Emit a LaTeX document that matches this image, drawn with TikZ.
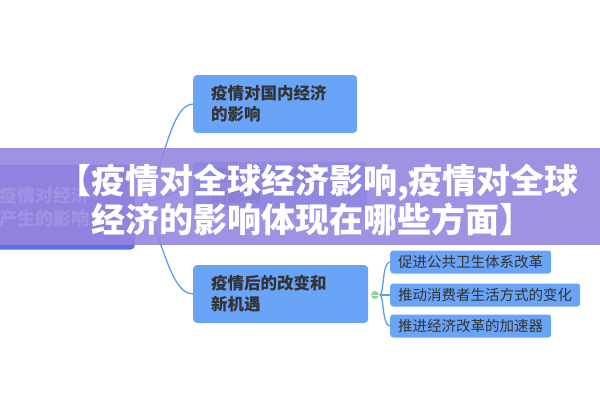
\documentclass[tikz,border=0pt]{standalone}
\usepackage{fontspec}
\setmainfont{Noto Sans CJK SC}
\usetikzlibrary{positioning}
\definecolor{rootBlue}{HTML}{5A6FE6}
\definecolor{nodeBlue}{HTML}{6AA4F7}
\definecolor{lineBlue}{HTML}{5C9CF2}
\definecolor{bannerPurple}{HTML}{9686E0}
\tikzset{
    objRoot/.style={rectangle, rounded corners=4pt, fill=rootBlue, text=white, font=\fontsize{18}{23}\selectfont\bfseries, align=left, minimum width=145pt, minimum height=85pt, text width=125pt, inner sep=0pt},
    objBranch/.style={rectangle, rounded corners=4pt, fill=nodeBlue, text=black!80, font=\fontsize{16.5}{21}\selectfont\bfseries, align=left, minimum height=58pt, inner xsep=18pt},
    objLeaf/.style={rectangle, rounded corners=3pt, fill=nodeBlue, text=black!80, font=\fontsize{14.5}{16}\selectfont, anchor=west, minimum height=23pt, inner xsep=8pt},
    link/.style={lineBlue, line width=1.3pt}
}
\begin{document}
\begin{tikzpicture}[x=1pt, y=-1pt]
    \useasboundingbox (0,0) rectangle (600,400);

    \node (root) [objRoot, anchor=east] at (135,207) {疫情对经济\\产生的影响};
    \node (domestic) [objBranch, anchor=west, minimum width=164pt, text width=128pt] at (193,104) {疫情对国内经济\\的影响};
    \node (global) [objBranch, anchor=west, minimum width=174pt, minimum height=48pt, text width=138pt] at (193,186) {疫情对全球经济\\的影响};
    \node (change) [objBranch, anchor=west, minimum width=175pt, text width=139pt] at (193,294) {疫情后的改变和\\新机遇};
    \node (fold) [circle, fill=green!40!gray!60, draw=white, line width=0.8pt, minimum size=9pt, inner sep=0pt] at (375,295) {};
    \draw[white, line width=1pt] (371.5,295) -- (378.5,295);

    \node (leaf1) [objLeaf] at (390,262) {促进公共卫生体系改革};
    \node (leaf2) [objLeaf] at (390,295) {推动消费者生活方式的变化};
    \node (leaf3) [objLeaf] at (390,326) {推进经济改革的加速器};

    \draw[link] (root.east) .. controls (160,207) and (165,104) .. (domestic.west);
    \draw[link] (root.east) -- (global.west);
    \draw[link] (root.east) .. controls (160,207) and (165,294) .. (change.west);
    \draw[link] (fold.east) .. controls (384,295) and (382,262) .. (leaf1.west);
    \draw[link] (fold.east) -- (leaf2.west);
    \draw[link] (fold.east) .. controls (384,295) and (382,326) .. (leaf3.west);

    % banner
    \fill[bannerPurple, opacity=0.9] (0,148) rectangle (600,245);
    \node (title) [text=white, font=\fontsize{34}{36}\selectfont\bfseries, align=left] at (318,200) {【疫情对全球经济影响,疫情对全球\\\phantom{【}经济的影响体现在哪些方面】};
\end{tikzpicture}
\end{document}
